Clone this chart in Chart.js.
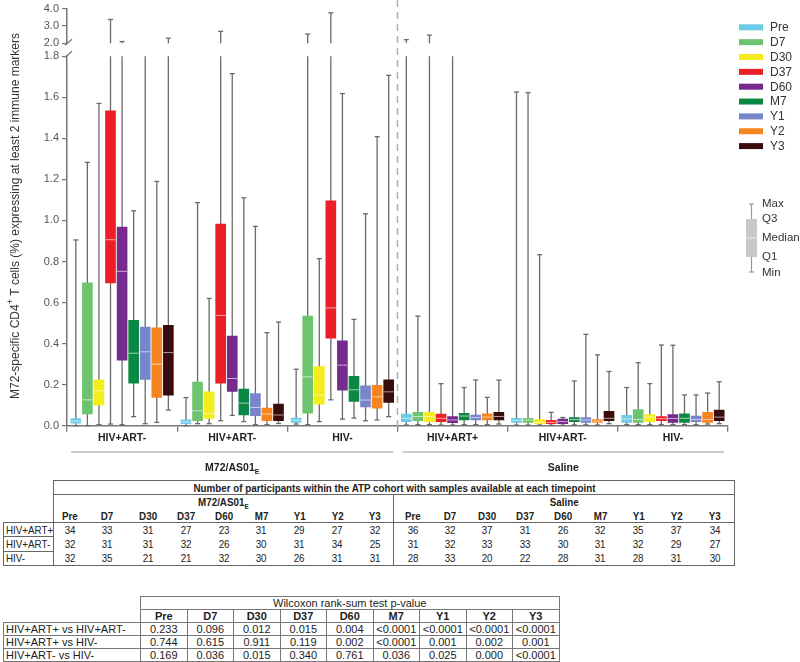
<!DOCTYPE html>
<html><head><meta charset="utf-8">
<script src="https://cdn.jsdelivr.net/npm/chart.js@4.4.1/dist/chart.umd.min.js"></script>
<style>
body{margin:0;background:#fff;width:800px;height:662px;overflow:hidden;position:relative;font-family:"Liberation Sans",Arial,sans-serif;color:#222;}
#wrap{position:absolute;left:0;top:0;width:800px;height:480px;}
table{border-collapse:collapse;position:absolute;table-layout:fixed;}
td{padding:0;text-align:center;white-space:nowrap;overflow:hidden;font-size:11px;line-height:12px;}
.b{font-weight:bold;}
.n{display:inline-block;transform-origin:50% 50%;vertical-align:top;line-height:12px;}
.lab .n{transform-origin:0 50%;}
#t1{left:3px;top:480px;width:731px;}
#t1 td{height:13px;}
#t1 tr.arm td{height:14px;}
#t1 tr.d td{height:13.4px;}
#t1 .box{border:1px solid #666;}
#t1 .lab{border:1px solid #666;text-align:left;padding-left:2px;}
#t1 .sep{border-left:1px solid #666;}
#t1 .rb{border-right:1px solid #666;}
#t1 .bb{border-bottom:1px solid #666;}
#t2{left:3px;top:596px;}
#t2 td{height:12px;border:1px solid #777;}
#t2 td.e{border:none;}
#t2 .lab{text-align:left;padding-left:2px;}
</style></head>
<body>
<div id="wrap"><canvas id="c"></canvas></div>
<table id="t1"></table>
<table id="t2"></table>
<script>
// ---------- DATA ----------
const timepoints = ['Pre','D7','D30','D37','D60','M7','Y1','Y2','Y3'];
const groupLabels = ['HIV+ART-','HIV+ART-','HIV-','HIV+ART+','HIV+ART-','HIV-'];
const armLabels = ['M72/AS01', 'Saline'];
const colors = ['#6ccbe4','#6ec46e','#f4ec1c','#ec1f27','#762a8c','#0b8843','#7884cc','#f6851f','#3a0b0c'];
const yTicksLow = [0,0.2,0.4,0.6,0.8,1.0,1.2,1.4,1.6,1.8];
const yTicksHigh = [2,3,4];
// one row per group (6), one value per timepoint (9)
const minV = [
 [0.000,0.000,0.005,0.008,0.005,0.044,0.010,0.016,0.076],
 [0.000,0.010,0.010,0.024,0.050,0.020,0.005,0.005,0.011],
 [0.008,0.005,0.020,0.126,0.032,0.037,0.024,0.028,0.044],
 [0.003,0.005,0.005,0.003,0.003,0.005,0.005,0.005,0.008],
 [0.003,0.003,0.003,0.002,0.002,0.004,0.004,0.003,0.010],
 [0.005,0.005,0.005,0.005,0.005,0.005,0.005,0.008,0.010]];
const q1V = [
 [0.012,0.057,0.100,0.696,0.319,0.207,0.225,0.138,0.149],
 [0.010,0.024,0.036,0.207,0.167,0.053,0.049,0.024,0.024],
 [0.016,0.061,0.105,0.426,0.173,0.118,0.092,0.086,0.113],
 [0.020,0.024,0.020,0.020,0.015,0.028,0.028,0.028,0.028],
 [0.016,0.016,0.010,0.010,0.010,0.020,0.016,0.016,0.025],
 [0.016,0.016,0.020,0.024,0.016,0.016,0.020,0.016,0.024]];
const medV = [
 [0.022,0.126,0.170,0.906,0.752,0.353,0.360,0.300,0.356],
 [0.018,0.073,0.060,0.537,0.230,0.110,0.089,0.057,0.052],
 [0.027,0.238,0.150,0.574,0.295,0.175,0.125,0.141,0.165],
 [0.036,0.045,0.045,0.036,0.028,0.047,0.040,0.042,0.045],
 [0.026,0.028,0.016,0.016,0.020,0.030,0.028,0.022,0.036],
 [0.033,0.030,0.042,0.034,0.035,0.036,0.030,0.030,0.042]];
const q3V = [
 [0.035,0.696,0.223,1.534,0.968,0.513,0.480,0.477,0.489],
 [0.028,0.213,0.165,0.982,0.437,0.178,0.157,0.086,0.105],
 [0.037,0.534,0.288,1.095,0.413,0.240,0.194,0.197,0.223],
 [0.057,0.065,0.065,0.057,0.044,0.060,0.052,0.058,0.065],
 [0.036,0.036,0.030,0.026,0.032,0.040,0.040,0.030,0.070],
 [0.050,0.078,0.054,0.044,0.054,0.058,0.047,0.065,0.076]];
const maxV = [
 [0.905,1.283,1.570,3.370,2.100,1.047,1.900,1.190,2.290],
 [0.137,1.087,0.620,2.690,1.715,1.110,0.971,0.453,0.505],
 [0.275,2.530,0.814,3.750,1.618,0.518,1.032,1.408,1.707],
 [2.210,0.534,2.470,0.205,1.900,0.186,0.223,0.138,0.222],
 [1.626,1.623,0.833,0.065,0.040,0.218,0.445,0.345,0.264],
 [0.186,0.307,0.205,0.393,0.392,0.150,0.150,0.159,0.214]];
// table data
const cohortRows = ['HIV+ART+','HIV+ART-','HIV-'];
const nM72 = [[34,33,31,27,23,31,29,27,32],[32,31,31,32,26,30,31,34,25],[32,35,21,21,32,30,26,31,31]];
const nSaline = [[36,32,37,31,26,32,35,37,34],[31,32,33,33,30,31,32,29,27],[28,33,20,22,28,31,28,31,30]];
const compRows = ['HIV+ART+ vs HIV+ART-','HIV+ART+ vs HIV-','HIV+ART- vs HIV-'];
const pVals = [
 ['0.233','0.096','0.012','0.015','0.004','<0.0001','<0.0001','<0.0001','<0.0001'],
 ['0.744','0.615','0.911','0.119','0.002','<0.0001','0.001','0.002','0.001'],
 ['0.169','0.036','0.015','0.340','0.761','0.036','0.025','0.000','<0.0001']];

// ---------- CHART ----------
const pos = (g,t) => g + 0.08 + 0.105*t;
const AX = '#777';
const FAM = '"Liberation Sans", Arial, sans-serif';
const datasets = timepoints.map((tp,t)=>({
  type:'bar', label:tp,
  data: groupLabels.map((_,g)=>({x:pos(g,t), y:[q1V[g][t], q3V[g][t]]})),
  backgroundColor: colors[t], borderWidth:0, barThickness:10, grouped:false,
  xAxisID:'x', yAxisID:'y'
}));

function line(ctx,x1,y1,x2,y2){ctx.beginPath();ctx.moveTo(x1,y1);ctx.lineTo(x2,y2);ctx.stroke();}

const boxParts = {
  id:'boxParts',
  beforeDatasetsDraw(chart){
    const {ctx, chartArea} = chart; const x=chart.scales.x, y=chart.scales.y, yT=chart.scales.yTop;
    ctx.save();
    const xs = x.getPixelForValue(3);
    ctx.strokeStyle='#b0b0b0'; ctx.lineWidth=1.5; ctx.setLineDash([7,5]);
    line(ctx,xs,0,xs,chartArea.bottom); ctx.setLineDash([]);
    ctx.strokeStyle='#6a6a6a'; ctx.lineWidth=1.3;
    groupLabels.forEach((_,g)=>timepoints.forEach((_,t)=>{
      const px = x.getPixelForValue(pos(g,t));
      const lo = minV[g][t], hi = maxV[g][t];
      const yLo = y.getPixelForValue(lo);
      const yHi = y.getPixelForValue(Math.min(hi, y.max));
      line(ctx,px,yLo,px,yHi);
      line(ctx,px-2.5,yLo,px+2.5,yLo);
      if (hi <= y.max) line(ctx,px-2.5,yHi,px+2.5,yHi);
      else if (hi >= yT.min){
        const a = yT.getPixelForValue(yT.min), b = yT.getPixelForValue(hi);
        line(ctx,px,a,px,b); line(ctx,px-2.5,b,px+2.5,b);
      }
    }));
    ctx.restore();
  },
  afterDatasetsDraw(chart){
    const {ctx} = chart; const x=chart.scales.x, y=chart.scales.y;
    ctx.save(); ctx.strokeStyle='rgba(255,255,255,0.6)'; ctx.lineWidth=1;
    groupLabels.forEach((_,g)=>timepoints.forEach((_,t)=>{
      const px = x.getPixelForValue(pos(g,t)); const py = y.getPixelForValue(medV[g][t]);
      line(ctx,px-5,py,px+5,py);
    }));
    ctx.restore();
  },
  afterDraw(chart){
    const {ctx, chartArea} = chart; const x=chart.scales.x, y=chart.scales.y, yT=chart.scales.yTop;
    ctx.save();
    // axis break marks
    const ax = chartArea.left;
    ctx.strokeStyle=AX; ctx.lineWidth=1.3;
    const b1 = yT.getPixelForValue(yT.min), b2 = y.getPixelForValue(y.max);
    line(ctx,ax-2,b1+2,ax+5,b1-4);
    line(ctx,ax-2,b2+1,ax+5,b2-5);
    // y title
    ctx.translate(16,216); ctx.rotate(-Math.PI/2);
    ctx.fillStyle='#333'; ctx.textBaseline='middle';
    const f='12px '+FAM, fs='9px '+FAM;
    const p1='M72-specific CD4', p2='+', p3=' T cells (%) expressing at least 2 immune markers';
    ctx.font=f; const w1=ctx.measureText(p1).width, w3=ctx.measureText(p3).width;
    ctx.font=fs; const w2=ctx.measureText(p2).width;
    let sx=-(w1+w2+w3)/2;
    ctx.font=f; ctx.fillText(p1,sx,0); sx+=w1;
    ctx.font=fs; ctx.fillText(p2,sx,-5); sx+=w2;
    ctx.font=f; ctx.fillText(p3,sx,0);
    ctx.setTransform(1,0,0,1,0,0);
    // arm underlines and labels
    ctx.strokeStyle='#999'; ctx.lineWidth=1;
    const lineY=452, labY=468;
    const spans=[[x.getPixelForValue(0)+4, x.getPixelForValue(3)-4],[x.getPixelForValue(3)+5, x.getPixelForValue(6)-4]];
    ctx.fillStyle='#222'; ctx.textBaseline='middle';
    const fb='bold 10.5px '+FAM, fbs='bold 7px '+FAM;
    spans.forEach((s,i)=>{
      line(ctx,s[0],lineY,s[1],lineY);
      const cx=(s[0]+s[1])/2;
      ctx.font=fb; const w=ctx.measureText(armLabels[i]).width;
      if(i===0){
        ctx.font=fbs; const ws=ctx.measureText('E').width;
        const st=cx-(w+ws)/2; ctx.font=fb; ctx.textAlign='left'; ctx.fillText(armLabels[i],st,labY);
        ctx.font=fbs; ctx.fillText('E',st+w,labY+4);
      } else { ctx.textAlign='center'; ctx.fillText(armLabels[i],cx,labY); }
    });
    // legend
    ctx.textAlign='left'; ctx.font='12px '+FAM;
    timepoints.forEach((tp,i)=>{
      const cy=27.3+14.85*i;
      ctx.fillStyle=colors[i]; ctx.fillRect(739,cy-3,24,6);
      ctx.fillStyle='#333'; ctx.fillText(tp,770,cy+0.5);
    });
    // box key
    ctx.strokeStyle='#999'; ctx.lineWidth=1.2;
    line(ctx,751.5,204,751.5,272); line(ctx,749,204,754,204); line(ctx,749,272,754,272);
    ctx.fillStyle='#c9c9c9'; ctx.fillRect(746,219,11,38);
    ctx.strokeStyle='#e6e6e6'; line(ctx,746,238,757,238);
    ctx.fillStyle='#333'; ctx.font='11.5px '+FAM;
    [['Max',204],['Q3',219],['Median',238],['Q1',257],['Min',273]].forEach(([s,yy])=>ctx.fillText(s,762,yy));
    ctx.restore();
  }
};

const tickFont = {family:FAM, size:11, lineHeight:1};
const yCommon = (ticksArr)=>({
  type:'linear', position:'left', stack:'v',
  afterBuildTicks: s=>{ s.ticks = ticksArr.map(v=>({value:v})); },
  ticks:{callback:v=>Number(v).toFixed(1), font:tickFont, color:'#555', padding:3, autoSkip:false},
  grid:{drawOnChartArea:false, tickLength:5, color:AX, tickColor:AX, lineWidth:1.2},
  border:{color:AX, width:1.5},
  afterFit: s=>{ s.width = 67; }
});

new Chart(document.getElementById('c'), {
  data:{datasets},
  options:{
    responsive:true, maintainAspectRatio:false, animation:false, devicePixelRatio:1,
    layout:{padding:{left:0,right:72,top:0,bottom:0}},
    plugins:{legend:{display:false}, tooltip:{enabled:false}},
    scales:{
      x:{type:'linear', min:0, max:6, position:'bottom', offset:false,
         afterBuildTicks: s=>{ const a=[]; for(let i=0;i<=groupLabels.length*2;i++) a.push({value:i/2}); s.ticks=a; },
         ticks:{autoSkip:false, maxRotation:0, padding:0, color:'#222',
                font:{family:FAM, size:10.5, weight:'bold'},
                callback:(v)=> (Math.abs(v%1-0.5)<1e-6) ? groupLabels[Math.floor(v)] : ''},
         grid:{offset:false, drawOnChartArea:false, tickLength:6, lineWidth:1.3,
               tickColor: c=> (c.tick && Math.abs(c.tick.value%1)<1e-6) ? AX : 'rgba(0,0,0,0)'},
         border:{color:AX, width:1.5},
         afterFit: s=>{ s.height = 54.3; }
      },
      y: Object.assign(yCommon(yTicksLow), {min:0, max:1.8, stackWeight:371.7}),
      yGap: {type:'linear', position:'left', stack:'v', stackWeight:13, min:0, max:1,
             ticks:{display:false}, grid:{display:false}, border:{display:false}, afterFit: s=>{ s.width = 67; }},
      yTop: Object.assign(yCommon(yTicksHigh), {min:2, max:4, stackWeight:35})
    }
  },
  plugins:[boxParts]
});

// ---------- TABLES ----------
const S = v => `<span class="n">${v}</span>`;
const m72W=[33,42,39,38,37,38,38,38,37], salW=[38,37,38,38,37,38,38,38,39];
let h='<colgroup><col style="width:50px">'+m72W.concat(salW).map(w=>`<col style="width:${w}px">`).join('')+'</colgroup>';
h+=`<tr><td></td><td colspan="18" class="box b"><span class="n" id="t1title">Number of participants within the ATP cohort with samples available at each timepoint</span></td></tr>`;
h+=`<tr class="arm"><td></td><td colspan="9" class="b" style="border-left:1px solid #666"><span class="n">M72/AS01<span style="font-size:7px;line-height:0;position:relative;top:3px">E</span></span></td><td colspan="9" class="b sep rb">${S('Saline')}</td></tr>`;
h+='<tr><td></td>'+timepoints.map((t,i)=>`<td class="b bb"${i===0?' style="border-left:1px solid #666"':''}>${S(t)}</td>`).join('')+timepoints.map((t,i)=>`<td class="b bb${i===0?' sep':''}${i===8?' rb':''}">${S(t)}</td>`).join('')+'</tr>';
cohortRows.forEach((r,ri)=>{
  h+=`<tr class="d"><td class="lab">${S(r)}</td>`+nM72[ri].map(v=>`<td>${S(v)}</td>`).join('')+nSaline[ri].map((v,i)=>`<td class="${i===0?'sep':''}${i===8?' rb':''}">${S(v)}</td>`).join('')+'</tr>';
});
document.getElementById('t1').innerHTML=h;
const t1rows=document.querySelectorAll('#t1 tr');
t1rows[t1rows.length-1].querySelectorAll('td').forEach(td=>td.style.borderBottom='1px solid #666');
const tw = document.getElementById('t1title').getBoundingClientRect().width;
const k = Math.min(1, 402/tw);
document.querySelectorAll('#t1 .n').forEach(s=>{ s.style.transform=`scaleX(${k})`; });

let h2='<colgroup><col style="width:137px">'+timepoints.map(()=>'<col style="width:46.5px">').join('')+'</colgroup>';
h2+=`<tr><td class="e"></td><td colspan="9">Wilcoxon rank-sum test p-value</td></tr>`;
h2+='<tr><td class="e"></td>'+timepoints.map(t=>`<td class="b">${t}</td>`).join('')+'</tr>';
compRows.forEach((r,ri)=>{ h2+=`<tr><td class="lab">${r}</td>`+pVals[ri].map(v=>`<td>${v.replace('<','&lt;')}</td>`).join('')+'</tr>'; });
document.getElementById('t2').innerHTML=h2;
</script>
</body></html>
